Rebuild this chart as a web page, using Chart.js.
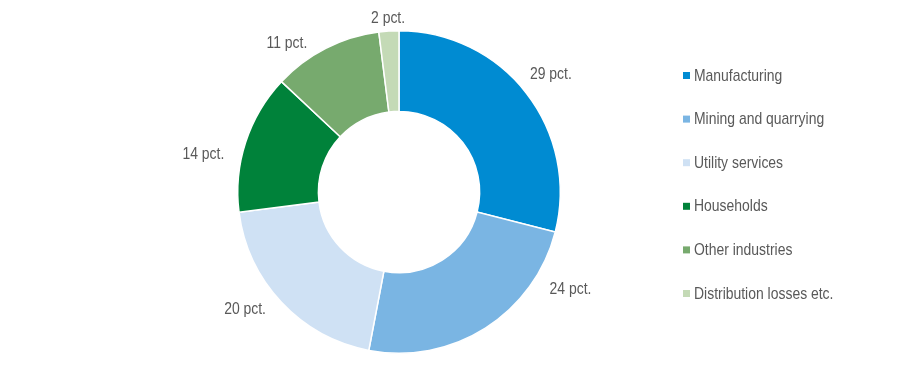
<!DOCTYPE html>
<html>
<head>
<meta charset="utf-8">
<script src="https://cdn.jsdelivr.net/npm/chart.js@4.4.1/dist/chart.umd.min.js"></script>
<style>
html,body{margin:0;padding:0;background:#fff;}
#wrap{width:905px;height:383px;position:relative;}
</style>
</head>
<body>
<div id="wrap"><canvas id="c" width="905" height="383"></canvas></div>
<script>
const categories = ["Manufacturing", "Mining and quarrying", "Utility services", "Households", "Other industries", "Distribution losses etc."];
const shares = [29, 24, 20, 14, 11, 2];
const labelSuffix = " pct.";
const colors = ["#008BD2", "#7AB5E3", "#CFE1F4", "#00823A", "#77AA6E", "#C4DAB6"];

const FONT = "'Liberation Sans Narrow', 'Arial Narrow', 'Liberation Sans', Arial, sans-serif";
const FONT_SIZE = 17;
const NARROW = 0.82; // horizontal condensing to mimic a narrow face

// label placement tweaks (angle shift in degrees, extra radius in px) relative to slice middle
const labelTweaks = [[0, 31], [-28, 36], [6, 32], [-7, 38], [-10, 25], [0, 13]];

function narrowText(ctx, text, x, y, align) {
  ctx.save();
  ctx.translate(x, y);
  ctx.scale(NARROW, 1);
  ctx.textAlign = align;
  ctx.fillText(text, 0, 0);
  ctx.restore();
}

const outsideLabels = {
  id: 'outsideLabels',
  afterDatasetsDraw(chart) {
    const ctx = chart.ctx;
    const meta = chart.getDatasetMeta(0);
    ctx.save();
    ctx.font = FONT_SIZE + "px " + FONT;
    ctx.fillStyle = "#595959";
    ctx.textBaseline = "middle";
    meta.data.forEach((arc, i) => {
      const p = arc.getProps(['x','y','startAngle','endAngle','outerRadius'], true);
      const mid = (p.startAngle + p.endAngle) / 2 + labelTweaks[i][0] * Math.PI / 180;
      const r = p.outerRadius + labelTweaks[i][1];
      narrowText(ctx, shares[i] + labelSuffix, p.x + Math.cos(mid) * r, p.y + Math.sin(mid) * r, "center");
    });
    ctx.restore();
  }
};

const sideLegend = {
  id: 'sideLegend',
  afterDraw(chart) {
    const ctx = chart.ctx;
    ctx.save();
    ctx.font = FONT_SIZE + "px " + FONT;
    ctx.textBaseline = "middle";
    const x0 = 683, y0 = 76, step = 43.6;
    categories.forEach((name, i) => {
      const y = y0 + i * step;
      ctx.fillStyle = colors[i];
      ctx.fillRect(x0, y - 4, 7, 7);
      ctx.fillStyle = "#595959";
      narrowText(ctx, name, x0 + 11, y, "left");
    });
    ctx.restore();
  }
};

new Chart(document.getElementById('c'), {
  type: 'doughnut',
  data: {
    labels: categories,
    datasets: [{
      data: shares,
      backgroundColor: colors,
      borderColor: '#ffffff',
      borderWidth: 1.5,
      borderJoinStyle: 'miter'
    }]
  },
  options: {
    responsive: false,
    animation: false,
    cutout: '50%',
    layout: { padding: { left: 237, right: 344, top: 30, bottom: 29 } },
    plugins: {
      legend: { display: false },
      tooltip: { enabled: false }
    }
  },
  plugins: [outsideLabels, sideLegend]
});
</script>
</body>
</html>
